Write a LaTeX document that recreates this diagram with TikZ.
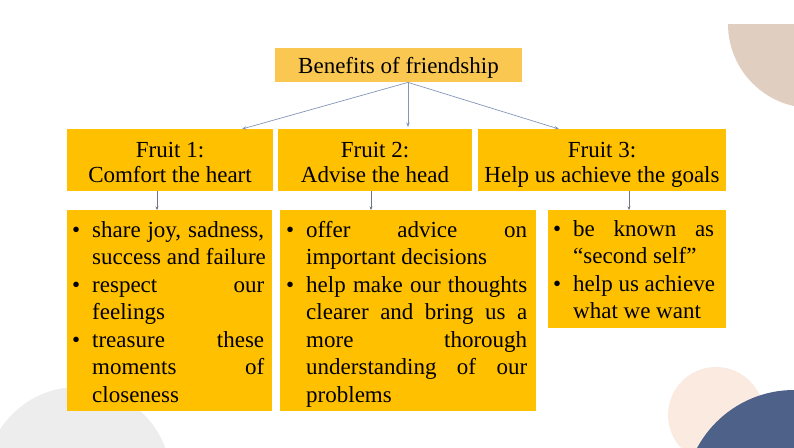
\documentclass[tikz,border=0pt]{standalone}
\usepackage{fontspec}
\setmainfont{Liberation Serif}
\usetikzlibrary{arrows.meta}
\definecolor{gold}{HTML}{FFC000}
\definecolor{lightgold}{HTML}{FAC850}
\definecolor{arrcol}{HTML}{8396B8}
\definecolor{lnkcol}{HTML}{6E7480}
\definecolor{beige}{HTML}{E0CFC0}
\definecolor{lgray}{HTML}{EDEDED}
\definecolor{peach}{HTML}{FBEAE0}
\definecolor{navy}{HTML}{4E6189}
\newcommand{\bl}[2]{\hbox{\makebox[20pt][l]{\textbullet}\makebox[#1][s]{#2}}}
\newcommand{\blnat}[1]{\hbox{\makebox[20pt][l]{\textbullet}#1}}
\newcommand{\cl}[2]{\hbox{\hspace*{20pt}\makebox[#1][s]{#2}}}
\newcommand{\clnat}[1]{\hbox{\hspace*{20pt}#1}}
\newcommand{\ctr}[1]{\hbox to 0pt{\hss #1\hss}}
\begin{document}
\begin{tikzpicture}[x=1pt,y=-1pt,
  box/.style={fill=gold,inner sep=0pt,anchor=north west},
  txt/.style={inner sep=0pt,font=\fontsize{23}{27.5}\selectfont},
  arr/.style={draw=arrcol,line width=0.7pt,-{Stealth[length=4.5pt,width=3.5pt]}},
  lnk/.style={draw=lnkcol,line width=0.7pt,-{Stealth[length=3.5pt,width=3pt]}}]
\useasboundingbox (0,0) rectangle (794,447);
\clip (0,0) rectangle (794,447);
% background decorations
\begin{scope}
  \clip (0,24) rectangle (794,447);
  \fill[beige] (812,24) circle[radius=84pt];
\end{scope}
\fill[lgray] (78,480) circle[radius=93pt];
\fill[peach] (716,415) circle[radius=48pt];
\fill[navy] (794,500) circle[radius=110pt];
% top box
\node[box,fill=lightgold,minimum width=247pt,minimum height=34pt] (top) at (275,48) {};
\node[txt,anchor=base] (topt) at (398.5,73) {Benefits of friendship};
% fruit boxes
\node[box,minimum width=206pt,minimum height=62pt] (f1) at (67,129) {};
\node[box,minimum width=194pt,minimum height=62pt] (f2) at (278,129) {};
\node[box,minimum width=248pt,minimum height=62pt] (f3) at (478,129) {};
\node[txt,anchor=base] (f1t) at (170,157) {\vtop{\baselineskip=25pt\ctr{Fruit 1:}\ctr{Comfort the heart}}};
\node[txt,anchor=base] (f2t) at (375,157) {\vtop{\baselineskip=25pt\ctr{Fruit 2:}\ctr{Advise the head}}};
\node[txt,anchor=base] (f3t) at (602,157) {\vtop{\baselineskip=25pt\ctr{Fruit 3:}\ctr{Help us achieve the goals}}};
% bullet boxes
\node[box,minimum width=205pt,minimum height=201pt] (b1) at (67,210) {};
\node[box,minimum width=256pt,minimum height=201pt] (b2) at (280,210) {};
\node[box,minimum width=178pt,minimum height=118pt] (b3) at (548,210) {};
\node[txt,anchor=base west] (b1t) at (72,237) {\vtop{\baselineskip=27.5pt
  \bl{172pt}{share joy, sadness,}
  \clnat{success and failure}
  \bl{172pt}{respect our}
  \clnat{feelings}
  \bl{172pt}{treasure these}
  \cl{172pt}{moments of}
  \clnat{closeness}}};
\node[txt,anchor=base west] (b2t) at (286,237) {\vtop{\baselineskip=27.5pt
  \bl{221pt}{offer advice on}
  \clnat{important decisions}
  \bl{221pt}{help make our thoughts}
  \cl{221pt}{clearer and bring us a}
  \cl{221pt}{more thorough}
  \cl{221pt}{understanding of our}
  \clnat{problems}}};
\node[txt,anchor=base west] (b3t) at (553,236) {\vtop{\baselineskip=27.5pt
  \bl{141pt}{be known as}
  \clnat{“second self”}
  \blnat{help us achieve}
  \clnat{what we want}}};
% connector x positions
\coordinate (x0) at (408,0);
\coordinate (x1) at (242,0);
\coordinate (x3) at (559,0);
\coordinate (y1) at (157,0);
\coordinate (y2) at (371,0);
\coordinate (y3) at (629,0);
\draw[arr] (top.south -| x0) -- (f1.north -| x1);
\draw[arr] (top.south -| x0) -- ([yshift=2pt]f2.north -| x0);
\draw[arr] (top.south -| x0) -- (f3.north -| x3);
\draw[lnk] (f1.south -| y1) -- (b1.north -| y1);
\draw[lnk] (f2.south -| y2) -- (b2.north -| y2);
\draw[lnk] (f3.south -| y3) -- (b3.north -| y3);
\end{tikzpicture}
\end{document}
